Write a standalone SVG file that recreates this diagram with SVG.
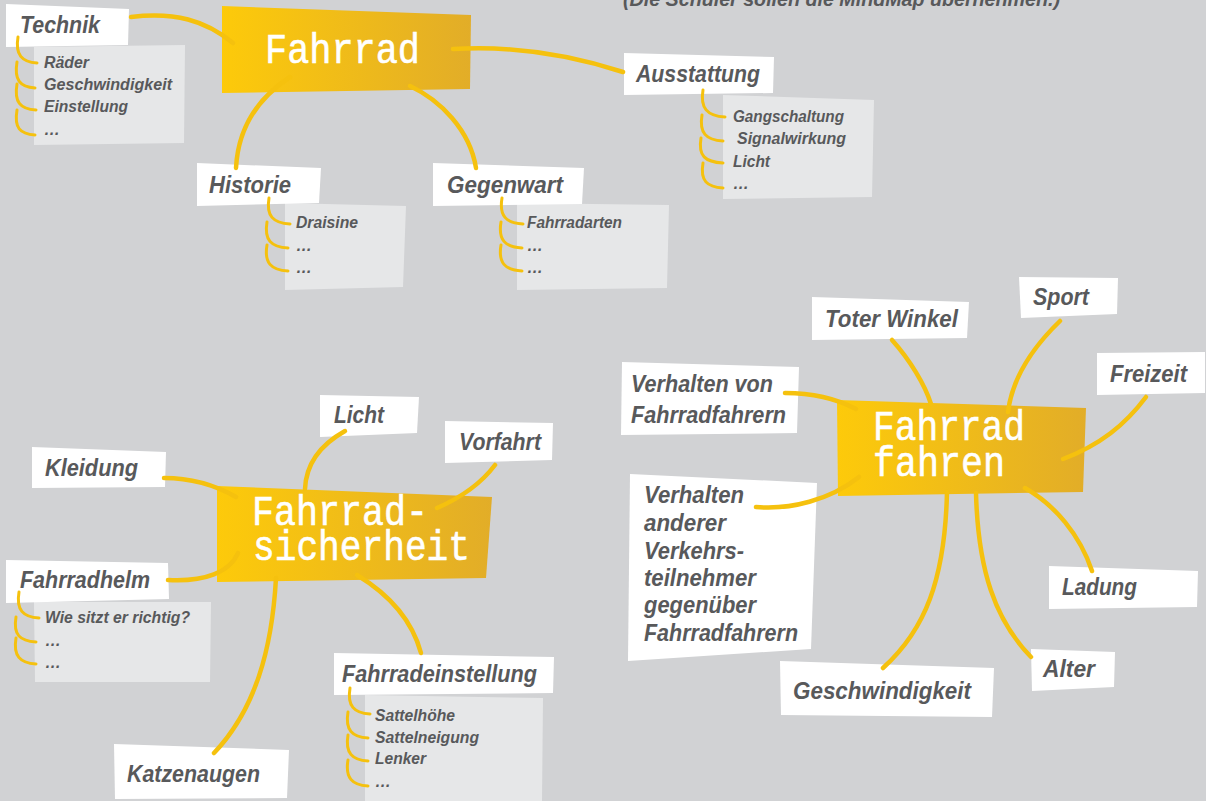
<svg xmlns="http://www.w3.org/2000/svg" width="1206" height="801" viewBox="0 0 1206 801">
  <defs>
    <linearGradient id="gold" x1="0" y1="0" x2="1" y2="0">
      <stop offset="0" stop-color="#fdca0a"/>
      <stop offset="1" stop-color="#e2ad28"/>
    </linearGradient>
    <style>
      .bg { fill: #d1d2d4; }
      .hub { fill: url(#gold); }
      .lbl { fill: #ffffff; }
      .sub { fill: #e6e7e8; }
      .t { font-family: "Liberation Sans Narrow", "Liberation Sans", Arial, sans-serif; font-weight: bold; font-style: italic; fill: #58595b; }
      .big { font-size: 23px; }
      .small { font-size: 16px; }
      .hubt { font-family: "Liberation Mono", "DejaVu Sans Mono", monospace; font-size: 43px; fill: #ffffff; stroke: #ffffff; stroke-width: 0.6; }
      .ln { fill: none; stroke: #f5c10e; stroke-width: 4.5; stroke-linecap: round; }
      .br { fill: none; stroke: #f5c10e; stroke-width: 3; stroke-linecap: round; }
    </style>
  </defs>

  <rect class="bg" x="0" y="0" width="1206" height="801"/>

  <text class="t" x="623" y="6" font-size="20" textLength="437" lengthAdjust="spacingAndGlyphs">(Die Schüler sollen die MindMap übernehmen.)</text>

  <!-- Mind map 1: Fahrrad -->
  <g id="fahrrad">
    <polygon class="hub" points="222,6 471,15 470,89 222,93"/>
    <text class="hubt" x="265" y="63" textLength="155" lengthAdjust="spacingAndGlyphs">Fahrrad</text>
  </g>
  <g id="technik">
    <polygon class="sub" points="34,47 185,45 184,143 34,145"/>
    <polygon class="lbl" points="6,4 129,9 128,45 6,47"/>
    <text class="t big" x="20" y="33" textLength="80" lengthAdjust="spacingAndGlyphs">Technik</text>
    <text class="t small" x="44" y="68" textLength="45" lengthAdjust="spacingAndGlyphs">Räder</text>
    <text class="t small" x="44" y="90" textLength="128" lengthAdjust="spacingAndGlyphs">Geschwindigkeit</text>
    <text class="t small" x="44" y="112" textLength="84" lengthAdjust="spacingAndGlyphs">Einstellung</text>
    <text class="t small" x="44" y="135" textLength="16" lengthAdjust="spacingAndGlyphs">…</text>
  </g>
  <g id="ausstattung">
    <polygon class="sub" points="723,95 874,100 872,197 723,199"/>
    <polygon class="lbl" points="624,53 774,57 773,93 624,95"/>
    <text class="t big" x="636" y="82" textLength="124" lengthAdjust="spacingAndGlyphs">Ausstattung</text>
    <text class="t small" x="733" y="122" textLength="111" lengthAdjust="spacingAndGlyphs">Gangschaltung</text>
    <text class="t small" x="737" y="144" textLength="109" lengthAdjust="spacingAndGlyphs">Signalwirkung</text>
    <text class="t small" x="733" y="167" textLength="37" lengthAdjust="spacingAndGlyphs">Licht</text>
    <text class="t small" x="733" y="189" textLength="16" lengthAdjust="spacingAndGlyphs">…</text>
  </g>
  <g id="historie">
    <polygon class="sub" points="285,203 406,206 403,287 285,290"/>
    <polygon class="lbl" points="197,163 321,168 319,203 197,206"/>
    <text class="t big" x="209" y="193" textLength="82" lengthAdjust="spacingAndGlyphs">Historie</text>
    <text class="t small" x="296" y="228" textLength="62" lengthAdjust="spacingAndGlyphs">Draisine</text>
    <text class="t small" x="296" y="251" textLength="16" lengthAdjust="spacingAndGlyphs">…</text>
    <text class="t small" x="296" y="273" textLength="16" lengthAdjust="spacingAndGlyphs">…</text>
  </g>
  <g id="gegenwart">
    <polygon class="sub" points="517,203 669,205 667,288 517,290"/>
    <polygon class="lbl" points="433,163 584,168 582,204 433,206"/>
    <text class="t big" x="447" y="193" textLength="116" lengthAdjust="spacingAndGlyphs">Gegenwart</text>
    <text class="t small" x="527" y="228" textLength="95" lengthAdjust="spacingAndGlyphs">Fahrradarten</text>
    <text class="t small" x="527" y="251" textLength="16" lengthAdjust="spacingAndGlyphs">…</text>
    <text class="t small" x="527" y="273" textLength="16" lengthAdjust="spacingAndGlyphs">…</text>
  </g>

  <!-- Mind map 2: Fahrrad fahren -->
  <g id="fahrrad-fahren">
    <polygon class="hub" points="837,400 1086,408 1083,492 838,496"/>
    <text class="hubt" x="873" y="440" textLength="152" lengthAdjust="spacingAndGlyphs">Fahrrad</text>
    <text class="hubt" x="873" y="476" textLength="132" lengthAdjust="spacingAndGlyphs">fahren</text>
  </g>
  <g id="toter-winkel">
    <polygon class="lbl" points="812,297 969,302 967,338 812,340"/>
    <text class="t big" x="825" y="327" textLength="133" lengthAdjust="spacingAndGlyphs">Toter Winkel</text>
  </g>
  <g id="sport">
    <polygon class="lbl" points="1019,277 1118,278 1117,314 1021,318"/>
    <text class="t big" x="1033" y="305" textLength="56" lengthAdjust="spacingAndGlyphs">Sport</text>
  </g>
  <g id="freizeit">
    <polygon class="lbl" points="1097,353 1205,352 1205,393 1097,395"/>
    <text class="t big" x="1110" y="382" textLength="77" lengthAdjust="spacingAndGlyphs">Freizeit</text>
  </g>
  <g id="verhalten-von">
    <polygon class="lbl" points="622,362 799,367 797,433 621,435"/>
    <text class="t big" x="631" y="392" textLength="142" lengthAdjust="spacingAndGlyphs">Verhalten von</text>
    <text class="t big" x="631" y="423" textLength="155" lengthAdjust="spacingAndGlyphs">Fahrradfahrern</text>
  </g>
  <g id="verhalten-anderer">
    <polygon class="lbl" points="630,474 817,483 811,649 628,661"/>
    <text class="t big" x="644" y="503" textLength="100" lengthAdjust="spacingAndGlyphs">Verhalten</text>
    <text class="t big" x="644" y="531" textLength="82" lengthAdjust="spacingAndGlyphs">anderer</text>
    <text class="t big" x="644" y="559" textLength="100" lengthAdjust="spacingAndGlyphs">Verkehrs-</text>
    <text class="t big" x="644" y="586" textLength="112" lengthAdjust="spacingAndGlyphs">teilnehmer</text>
    <text class="t big" x="644" y="613" textLength="112" lengthAdjust="spacingAndGlyphs">gegenüber</text>
    <text class="t big" x="644" y="641" textLength="154" lengthAdjust="spacingAndGlyphs">Fahrradfahrern</text>
  </g>
  <g id="geschwindigkeit">
    <polygon class="lbl" points="780,661 994,668 992,717 781,715"/>
    <text class="t big" x="793" y="699" textLength="178" lengthAdjust="spacingAndGlyphs">Geschwindigkeit</text>
  </g>
  <g id="alter">
    <polygon class="lbl" points="1031,649 1115,652 1114,687 1032,691"/>
    <text class="t big" x="1043" y="677" textLength="52" lengthAdjust="spacingAndGlyphs">Alter</text>
  </g>
  <g id="ladung">
    <polygon class="lbl" points="1049,566 1198,571 1197,607 1049,609"/>
    <text class="t big" x="1062" y="595" textLength="75" lengthAdjust="spacingAndGlyphs">Ladung</text>
  </g>

  <!-- Mind map 3: Fahrradsicherheit -->
  <g id="fahrradsicherheit">
    <polygon class="hub" points="217,486 492,497 486,578 217,582"/>
    <text class="hubt" x="252" y="525" textLength="176" lengthAdjust="spacingAndGlyphs">Fahrrad-</text>
    <text class="hubt" x="253" y="560" textLength="217" lengthAdjust="spacingAndGlyphs">sicherheit</text>
  </g>
  <g id="licht">
    <polygon class="lbl" points="320,395 419,397 417,433 320,437"/>
    <text class="t big" x="334" y="423" textLength="50" lengthAdjust="spacingAndGlyphs">Licht</text>
  </g>
  <g id="vorfahrt">
    <polygon class="lbl" points="445,421 553,423 552,460 445,463"/>
    <text class="t big" x="459" y="450" textLength="82" lengthAdjust="spacingAndGlyphs">Vorfahrt</text>
  </g>
  <g id="kleidung">
    <polygon class="lbl" points="32,447 166,452 165,487 32,488"/>
    <text class="t big" x="45" y="476" textLength="93" lengthAdjust="spacingAndGlyphs">Kleidung</text>
  </g>
  <g id="fahrradhelm">
    <polygon class="sub" points="34,602 211,602 210,682 35,682"/>
    <polygon class="lbl" points="6,560 168,563 169,599 6,603"/>
    <text class="t big" x="20" y="588" textLength="130" lengthAdjust="spacingAndGlyphs">Fahrradhelm</text>
    <text class="t small" x="45" y="623" textLength="145" lengthAdjust="spacingAndGlyphs">Wie sitzt er richtig?</text>
    <text class="t small" x="45" y="646" textLength="16" lengthAdjust="spacingAndGlyphs">…</text>
    <text class="t small" x="45" y="668" textLength="16" lengthAdjust="spacingAndGlyphs">…</text>
  </g>
  <g id="katzenaugen">
    <polygon class="lbl" points="114,744 289,750 287,798 115,799"/>
    <text class="t big" x="127" y="782" textLength="133" lengthAdjust="spacingAndGlyphs">Katzenaugen</text>
  </g>
  <g id="fahrradeinstellung">
    <polygon class="sub" points="365,695 543,698 542,801 365,801"/>
    <polygon class="lbl" points="334,653 554,657 553,693 334,695"/>
    <text class="t big" x="342" y="682" textLength="195" lengthAdjust="spacingAndGlyphs">Fahrradeinstellung</text>
    <text class="t small" x="375" y="721" textLength="80" lengthAdjust="spacingAndGlyphs">Sattelhöhe</text>
    <text class="t small" x="375" y="743" textLength="104" lengthAdjust="spacingAndGlyphs">Sattelneigung</text>
    <text class="t small" x="375" y="764" textLength="51" lengthAdjust="spacingAndGlyphs">Lenker</text>
    <text class="t small" x="375" y="787" textLength="16" lengthAdjust="spacingAndGlyphs">…</text>
  </g>

  <!-- Connectors and list brackets -->
  <g id="connectors">
    <!-- Fahrrad -->
    <path class="ln" d="M131,17 C175,12 205,20 233,43"/>
    <path class="ln" d="M453,49 C520,45 580,58 623,72"/>
    <path class="ln" d="M290,77 C255,100 238,130 236,168"/>
    <path class="ln" d="M410,86 C440,100 470,130 476,168"/>
    <path class="br" d="M18,37 C15,55 22,62 37,63"/>
    <path class="br" d="M17,62 C14,80 20,87 35,88"/>
    <path class="br" d="M17,84 C14,102 20,109 36,110"/>
    <path class="br" d="M17,110 C14,128 20,134 35,135"/>
    <path class="br" d="M703,90 C700,108 707,116 725,117"/>
    <path class="br" d="M702,115 C699,133 706,140 723,141"/>
    <path class="br" d="M701,138 C698,156 705,162 723,163"/>
    <path class="br" d="M703,163 C700,181 707,187 723,188"/>
    <path class="br" d="M269,198 C266,216 273,223 290,224"/>
    <path class="br" d="M267,222 C264,240 271,247 288,248"/>
    <path class="br" d="M267,245 C264,263 271,270 288,271"/>
    <path class="br" d="M502,198 C499,216 506,223 523,224"/>
    <path class="br" d="M501,222 C498,240 505,247 522,248"/>
    <path class="br" d="M501,245 C498,263 505,270 522,271"/>
    <!-- Fahrrad fahren -->
    <path class="ln" d="M785,393 C810,393 835,398 856,409"/>
    <path class="ln" d="M892,340 C910,360 925,385 931,404"/>
    <path class="ln" d="M1060,321 C1030,350 1012,380 1008,412"/>
    <path class="ln" d="M1146,397 C1125,425 1100,445 1063,459"/>
    <path class="ln" d="M756,507 C790,510 830,500 859,477"/>
    <path class="ln" d="M947,492 C945,580 925,630 883,668"/>
    <path class="ln" d="M976,493 C978,570 995,620 1031,657"/>
    <path class="ln" d="M1025,488 C1055,505 1080,535 1092,571"/>
    <!-- Fahrradsicherheit -->
    <path class="ln" d="M345,431 C320,445 306,465 305,489"/>
    <path class="ln" d="M495,465 C480,485 460,498 437,508"/>
    <path class="ln" d="M164,478 C190,478 215,485 236,497"/>
    <path class="ln" d="M168,580 C205,582 230,572 238,553"/>
    <path class="ln" d="M276,578 C272,650 255,710 214,753"/>
    <path class="ln" d="M357,575 C390,595 412,620 421,653"/>
    <path class="br" d="M19,592 C16,610 23,617 39,618"/>
    <path class="br" d="M16,617 C13,635 20,641 36,642"/>
    <path class="br" d="M16,638 C13,656 20,663 36,664"/>
    <path class="br" d="M350,688 C347,706 354,713 370,714"/>
    <path class="br" d="M348,712 C345,730 352,737 368,738"/>
    <path class="br" d="M348,735 C345,753 352,760 368,761"/>
    <path class="br" d="M348,760 C345,778 352,785 368,786"/>
  </g>
</svg>
